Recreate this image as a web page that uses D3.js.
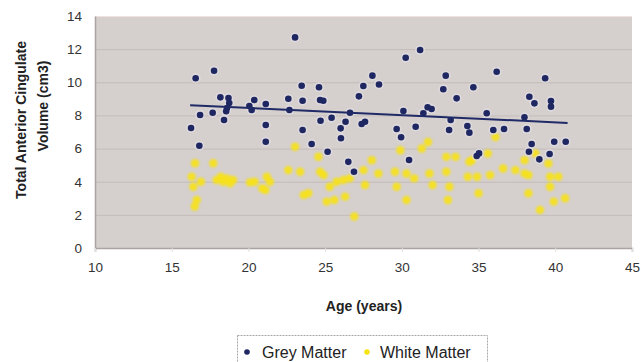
<!DOCTYPE html>
<html>
<head>
<meta charset="utf-8">
<script src="https://cdn.jsdelivr.net/npm/d3@7"></script>
<style>
  body { margin: 0; background: #fff; }
  svg { display: block; font-family: "Liberation Sans", Arial, sans-serif; }
</style>
</head>
<body>
<div id="chart"></div>
<script>
// values
const greyAge = [16.26, 16.56, 16.8, 16.85, 17.67, 17.76, 18.17, 18.41, 18.55, 18.6, 18.7, 18.75,
  20.06, 20.21, 20.38, 21.13, 21.13, 21.13, 22.6, 22.67, 23.04, 23.47, 23.53, 23.53, 24.12,
  24.6, 24.67, 24.7, 24.88, 25.16, 25.42, 26.01, 26.03, 26.33, 26.51, 26.62, 26.88, 27.2,
  27.38, 27.49, 27.6, 28.08, 28.51, 29.66, 29.95, 30.1, 30.25, 30.47, 30.9, 31.19, 31.4,
  31.68, 31.94, 32.7, 32.86, 33.08, 33.18, 33.57, 34.27, 34.4, 34.66, 34.88, 35.03, 35.53,
  35.96, 36.18, 36.66, 37.99, 38.14, 38.28, 38.31, 38.46, 38.64, 38.96, 39.34, 39.63, 39.72,
  39.72, 39.93, 40.68];
const greyVol = [7.24, 10.24, 6.17, 8.03, 8.16, 10.7, 9.09, 7.72, 8.25, 8.45, 9.05, 8.75,
  8.57, 8.33, 8.93, 8.69, 7.42, 6.41, 9.01, 8.33, 12.71, 9.79, 8.89, 7.12, 6.28,
  9.7, 8.93, 7.68, 8.89, 5.81, 7.86, 7.22, 6.62, 7.62, 5.2, 8.16, 4.6, 9.15,
  7.48, 9.78, 7.62, 10.4, 9.87, 7.18, 6.68, 8.27, 11.48, 5.31, 7.32, 11.95, 8.13,
  8.49, 8.39, 9.58, 10.4, 7.12, 7.72, 9.03, 7.36, 6.96, 9.7, 5.55, 5.71, 8.13,
  7.12, 10.64, 7.18, 7.89, 7.18, 5.81, 9.13, 6.28, 8.73, 5.35, 10.24, 5.67, 8.87,
  8.53, 6.41, 6.41];

const whiteAge = [16.3, 16.41, 16.52, 16.63, 16.5, 16.9, 17.71, 17.93, 18.2, 18.36, 18.6, 18.8,
  19.0, 20.1, 20.4, 20.9, 21.2, 21.1, 21.4, 22.6, 23.04, 23.37, 23.6, 23.9, 24.56, 24.67,
  24.9, 25.1, 25.3, 25.6, 25.75, 26.2, 26.3, 26.6, 26.9, 27.5, 27.6, 28.04, 28.47, 29.55,
  29.66, 29.9, 30.3, 30.3, 30.8, 31.3, 31.7, 31.8, 32.0, 32.9, 32.9, 33.1, 33.0, 33.5,
  34.3, 34.4, 34.56, 34.9, 35.0, 35.6, 35.75, 36.1, 36.6, 37.4, 38.0, 38.0, 38.25, 38.25,
  38.7, 39.0, 39.55, 39.66, 39.66, 39.9, 40.2, 40.64];
const whiteVol = [4.3, 3.7, 5.11, 2.9, 2.5, 4.0, 5.11, 4.1, 4.3, 4.0, 4.2, 3.9,
  4.1, 3.96, 4.0, 3.6, 4.3, 3.5, 4.0, 4.7, 6.11, 4.6, 3.2, 3.3, 5.51, 4.6,
  4.4, 2.8, 3.7, 2.9, 4.0, 4.1, 3.1, 4.2, 1.9, 4.7, 3.8, 5.3, 4.5, 4.6,
  3.7, 5.9, 4.5, 2.9, 4.2, 6.0, 6.4, 4.5, 3.8, 4.6, 5.5, 3.7, 2.9, 5.5,
  4.3, 5.2, 5.3, 4.3, 3.3, 5.7, 4.4, 6.7, 4.8, 4.7, 4.5, 5.3, 4.4, 3.3,
  5.7, 2.3, 5.1, 4.3, 3.7, 2.8, 4.3, 3.0];

// grey matter trend line ends
const trendAge = [16.2, 40.8];
const trendVol = [8.62, 7.55];

const xTicks = [10, 15, 20, 25, 30, 35, 40, 45];
const yTicks = [0, 2, 4, 6, 8, 10, 12, 14];
const seriesNames = ["Grey Matter", "White Matter"];

const W = 641, H = 362;
const plot = { left: 95, right: 632, top: 16, bottom: 248 };
const greyColor = "#1e2761", whiteColor = "#f7e214";

const svg = d3.select("#chart").append("svg")
  .attr("width", W).attr("height", H);

const defs = svg.append("defs");
defs.append("filter").attr("id", "soft")
  .attr("x", "-50%").attr("y", "-50%").attr("width", "200%").attr("height", "200%")
  .append("feGaussianBlur").attr("stdDeviation", 1.2);

const x = d3.scaleLinear().domain([10, 45]).range([plot.left, plot.right]);
const y = d3.scaleLinear().domain([0, 14]).range([plot.bottom, plot.top]);

// plot background
svg.append("rect")
  .attr("x", plot.left).attr("y", plot.top)
  .attr("width", plot.right - plot.left).attr("height", plot.bottom - plot.top)
  .attr("fill", "#d5cfcd");

// gridlines
svg.append("g").selectAll("line")
  .data(yTicks.filter(d => d > 0))
  .join("line")
  .attr("x1", plot.left).attr("x2", plot.right)
  .attr("y1", d => y(d) + 0.5).attr("y2", d => y(d) + 0.5)
  .attr("stroke", d => d === 14 ? "#efe2de" : "#c3bcba")
  .attr("stroke-width", 1);

// axes
const yAxis = svg.append("g")
  .attr("transform", `translate(${plot.left},0)`)
  .call(d3.axisLeft(y).tickValues(yTicks).tickSize(0).tickPadding(13));
const xAxis = svg.append("g")
  .attr("transform", `translate(0,${plot.bottom})`)
  .call(d3.axisBottom(x).tickValues(xTicks).tickSize(4).tickPadding(10));

[xAxis, yAxis].forEach(g => {
  g.select(".domain").attr("stroke", "#a9a3a2").attr("stroke-width", 1.5);
  g.selectAll(".tick line").attr("stroke", "#e2dcdb");
  g.selectAll("text").attr("font-size", 13.5).attr("fill", "#333")
    .attr("font-family", "Liberation Sans, Arial, sans-serif");
});

// white matter points (soft, blurry)
const whitePts = whiteAge.map((a, i) => ({ a, v: whiteVol[i] }));
svg.append("g").attr("filter", "url(#soft)")
  .selectAll("circle").data(whitePts).join("circle")
  .attr("cx", d => x(d.a)).attr("cy", d => y(d.v)).attr("r", 4.2)
  .attr("fill", whiteColor).attr("opacity", 0.9);

// grey matter points with pale halo
const greyPts = greyAge.map((a, i) => ({ a, v: greyVol[i] }));
svg.append("g").selectAll("circle").data(greyPts).join("circle")
  .attr("cx", d => x(d.a)).attr("cy", d => y(d.v)).attr("r", 5)
  .attr("fill", "#e4e2ea").attr("opacity", 0.55);
svg.append("g").selectAll("circle").data(greyPts).join("circle")
  .attr("cx", d => x(d.a)).attr("cy", d => y(d.v)).attr("r", 3.3)
  .attr("fill", greyColor);

// trend line
svg.append("line")
  .attr("x1", x(trendAge[0])).attr("y1", y(trendVol[0]))
  .attr("x2", x(trendAge[1])).attr("y2", y(trendVol[1]))
  .attr("stroke", "#1f2a66").attr("stroke-width", 2);

// axis titles
svg.append("text")
  .attr("transform", "translate(21,120) rotate(-90)")
  .attr("text-anchor", "middle").attr("dominant-baseline", "central")
  .attr("font-size", 14).attr("font-weight", "bold").attr("fill", "#222")
  .text("Total Anterior Cingulate");
svg.append("text")
  .attr("transform", "translate(43,106) rotate(-90)")
  .attr("text-anchor", "middle").attr("dominant-baseline", "central")
  .attr("font-size", 14).attr("font-weight", "bold").attr("fill", "#222")
  .text("Volume (cm3)");
svg.append("text")
  .attr("x", 364).attr("y", 306)
  .attr("text-anchor", "middle").attr("dominant-baseline", "central")
  .attr("font-size", 14).attr("font-weight", "bold").attr("fill", "#222")
  .text("Age (years)");

// legend
const lg = svg.append("g");
lg.append("rect")
  .attr("x", 237.5).attr("y", 335.5).attr("width", 250).attr("height", 30)
  .attr("fill", "#fff").attr("stroke", "#a8a8a8").attr("stroke-dasharray", "2,1");
const legendItems = [
  { name: seriesNames[0], color: greyColor, mx: 247, tx: 262 },
  { name: seriesNames[1], color: whiteColor, mx: 367, tx: 380 }
];
legendItems.forEach(it => {
  lg.append("circle").attr("cx", it.mx).attr("cy", 352).attr("r", 2.8).attr("fill", it.color);
  lg.append("text").attr("x", it.tx).attr("y", 352)
    .attr("dominant-baseline", "central")
    .attr("font-size", 16).attr("fill", "#222").text(it.name);
});
</script>
</body>
</html>
